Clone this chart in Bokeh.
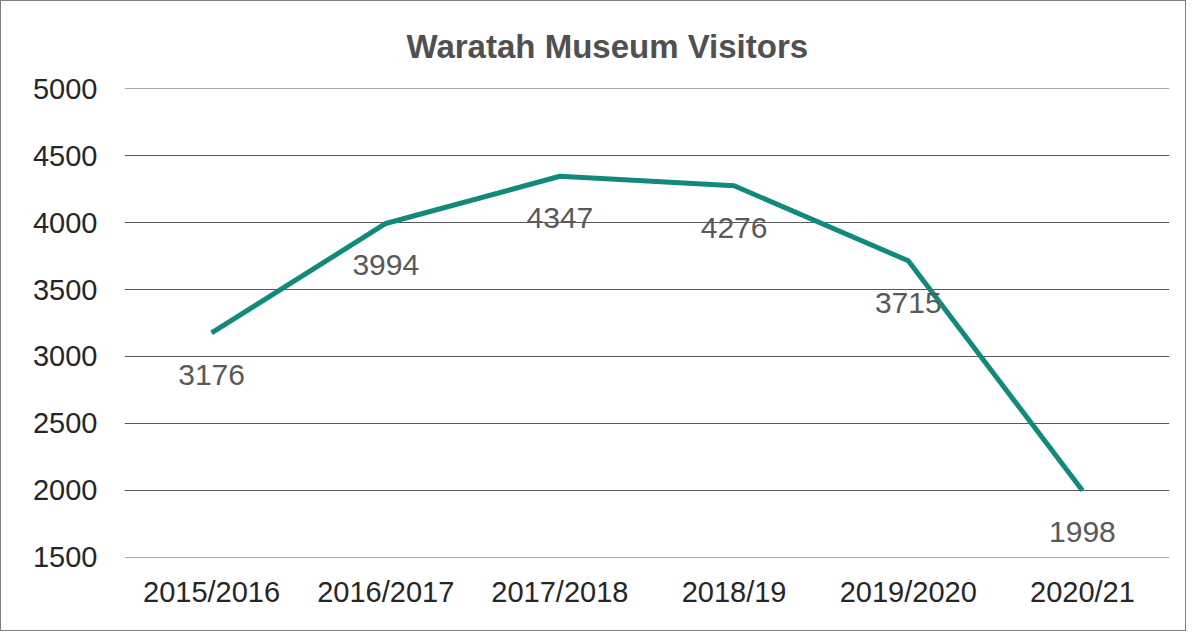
from bokeh.plotting import figure
from bokeh.models import Range1d, FixedTicker, ColumnDataSource
from bokeh.embed import file_html
from bokeh.resources import INLINE
from bokeh.core.properties import value

categories = ["2015/2016", "2016/2017", "2017/2018", "2018/19", "2019/2020", "2020/21"]
visitors = [3176, 3994, 4347, 4276, 3715, 1998]
y_ticks = [1500, 2000, 2500, 3000, 3500, 4000, 4500, 5000]
title_text = "Waratah Museum Visitors"

FONT = "Liberation Sans"

p = figure(x_range=categories, y_range=Range1d(1497, 5003),
           width=1186, height=631, output_backend="svg", toolbar_location=None,
           min_border_left=123, min_border_top=87, min_border_right=18, min_border_bottom=75)
p.styles = {"border": "1px solid #7f7f7f"}
p.outline_line_color = None
p.background_fill_color = "white"
p.border_fill_color = "white"

p.title.text = title_text
p.title.align = "left"
p.title.offset = 282
p.title.text_font = FONT
p.title.text_font_size = "33px"
p.title.text_font_style = "bold"
p.title.text_color = "#505050"
p.title.standoff = 48

src = ColumnDataSource(dict(x=categories, y=visitors, t=[str(v) for v in visitors]))
p.line("x", "y", source=src, line_color="#128a7b", line_width=5, line_join="round")
p.text("x", "y", text="t", source=src, text_font=value(FONT), text_font_size="30px",
       text_color="#595959", text_align="center", text_baseline="middle", y_offset=42)

p.xgrid.grid_line_color = None
p.ygrid.grid_line_color = "#595959"
p.ygrid.grid_line_width = 1
p.yaxis.ticker = FixedTicker(ticks=y_ticks)

for ax in (p.xaxis[0], p.yaxis[0]):
    ax.axis_line_color = None
    ax.major_tick_line_color = None
    ax.minor_tick_line_color = None
    ax.major_label_text_font = FONT
    ax.major_label_text_font_size = "29px"
    ax.major_label_text_color = "#262626"
p.xaxis.major_label_standoff = 12
p.yaxis.major_label_standoff = 21

open("out.html", "w").write(file_html(p, INLINE))
